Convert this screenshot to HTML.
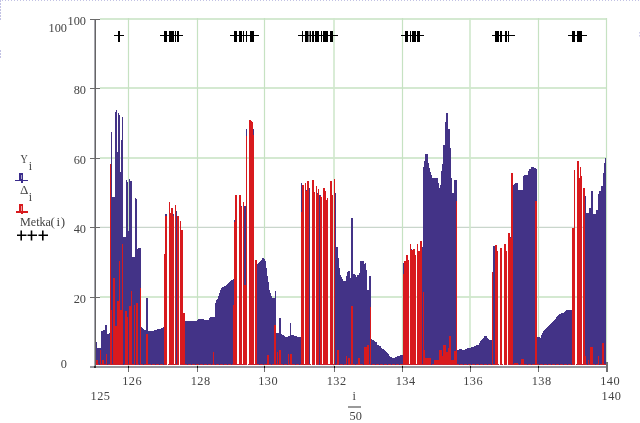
<!DOCTYPE html>
<html><head><meta charset="utf-8"><title>Mathcad plot</title>
<style>
html,body{margin:0;padding:0;background:#fff;}
body{width:640px;height:423px;overflow:hidden;position:relative;}
svg{position:absolute;left:0;top:0;display:block;}
text{font-family:"Liberation Serif","Times New Roman",serif;fill:#444;}
text{will-change:transform;}
</style></head><body>
<svg width="640" height="423" viewBox="0 0 640 423">
<!-- selection border -->
<line x1="0" y1="0.5" x2="640" y2="0.5" stroke="#c2c2e4" stroke-width="1" stroke-dasharray="1 2" transform="translate(2 0)"/>
<line x1="0.5" y1="0" x2="0.5" y2="21" stroke="#c2c2e4" stroke-width="1" stroke-dasharray="2 1"/>
<line x1="0.5" y1="50" x2="0.5" y2="59" stroke="#c2c2e4" stroke-width="1" stroke-dasharray="2 1"/>
<rect x="639" y="32" width="1" height="1.5" fill="#ccccea"/><rect x="639" y="35" width="1" height="1.5" fill="#ccccea"/>
<!-- grid -->
<g stroke="#c6e2c2" stroke-width="1.3" fill="none">
<path d="M100 19H607M100 88H607M100 158H607M100 297H607"/>
<path d="M100 227.4H607" stroke="#c9d6cc"/>
<path d="M128.5 18V366M197.5 18V366M264.5 18V366M402.5 18V366M538.5 18V366M606.5 18V362" stroke-width="1.2"/>
<path d="M334 18V366M470 18V366" stroke-width="1.6" stroke="#d0e8cc"/>
</g>
<!-- data -->
<g shape-rendering="crispEdges">
<path fill="#433387" d="M96 342h1v23h-1zM97 348h4v17h-4zM101 331h2v34h-2zM103 330h2v35h-2zM105 325h2v40h-2zM107 334h2v31h-2zM109 333h1v32h-1zM111 132h1v233h-1zM112 197h3v168h-3zM115 112h1v253h-1zM116 110h1v255h-1zM117 152h1v213h-1zM118 113h1v252h-1zM119 115h1v250h-1zM120 172h1v193h-1zM121 140h1v225h-1zM122 117h1v248h-1zM123 237h3v128h-3zM126 180h1v185h-1zM127 182h1v183h-1zM128 231h1v134h-1zM129 179h1v186h-1zM130 181h2v184h-2zM132 257h3v108h-3zM135 198h1v167h-1zM136 199h1v166h-1zM137 249h1v116h-1zM138 248h3v117h-3zM141 327.0h1v38.0h-1zM142 327.8h1v37.2h-1zM143 328.7h1v36.3h-1zM144 329.5h1v35.5h-1zM145 330.0h1v35.0h-1zM146 298h2v67h-2zM148 331.0h5v34.0h-5zM153 330.6h1v34.4h-1zM154 330.2h1v34.8h-1zM155 329.9h1v35.1h-1zM156 329.5h1v35.5h-1zM157 329.4h1v35.6h-1zM158 329.2h1v35.8h-1zM159 329.1h1v35.9h-1zM160 329.0h1v36.0h-1zM161 328.3h1v36.7h-1zM162 327.7h1v37.3h-1zM163 327.0h1v38.0h-1zM165 214h2v151h-2zM172 214h2v151h-2zM176 211h1v154h-1zM185 321.0h1v44.0h-1zM186 320.5h11v44.5h-11zM197 320.0h1v45.0h-1zM198 319.0h6v46.0h-6zM204 320.0h5v45.0h-5zM209 318.0h1v47.0h-1zM210 317.0h5v48.0h-5zM215 302.5h1v62.5h-1zM216 300.0h1v65.0h-1zM217 299.0h1v66.0h-1zM218 296.0h1v69.0h-1zM219 293.0h1v72.0h-1zM220 290.0h1v75.0h-1zM221 288.0h1v77.0h-1zM222 287.0h1v78.0h-1zM223 286.5h1v78.5h-1zM224 286.0h1v79.0h-1zM225 285.5h1v79.5h-1zM226 284.8h1v80.2h-1zM227 284.0h1v81.0h-1zM228 282.5h1v82.5h-1zM229 282.0h1v83.0h-1zM230 281.0h1v84.0h-1zM231 280.0h1v85.0h-1zM232 279.5h1v85.5h-1zM233 279.0h1v86.0h-1zM234 220h1v145h-1zM241 206h1v159h-1zM244 205.5h2v159.5h-2zM246 129h1v236h-1zM253 129h1v236h-1zM255 264h3v101h-3zM258 263.0h1v102.0h-1zM259 262.0h1v103.0h-1zM260 261.0h1v104.0h-1zM261 259.5h1v105.5h-1zM262 258.0h2v107.0h-2zM264 259.0h1v106.0h-1zM265 261.0h1v104.0h-1zM266 268.0h1v97.0h-1zM267 276.0h1v89.0h-1zM268 282.0h1v83.0h-1zM269 290.0h1v75.0h-1zM270 293.0h1v72.0h-1zM271 296.0h1v69.0h-1zM272 298.0h3v67.0h-3zM275 291h1v74h-1zM276 333.0h3v32.0h-3zM279 317.5h2v47.5h-2zM281 333.5h1v31.5h-1zM282 334.5h1v30.5h-1zM283 335.0h1v30.0h-1zM284 335.5h1v29.5h-1zM285 336.5h3v28.5h-3zM288 336.2h1v28.8h-1zM289 336.0h1v29.0h-1zM290 322.6h1v42.4h-1zM291 335.0h3v30.0h-3zM294 335.5h3v29.5h-3zM297 336.5h3v28.5h-3zM300 337.0h1v28.0h-1zM301 183h1v182h-1zM306 190h1v175h-1zM309 188h1v177h-1zM317 193h1v172h-1zM319 195h2v170h-2zM335 193h1v172h-1zM336 247h2v118h-2zM338 258.0h1v107.0h-1zM339 268.0h1v97.0h-1zM340 275.0h1v90.0h-1zM341 277.0h1v88.0h-1zM342 279.0h1v86.0h-1zM343 281.0h3v84.0h-3zM346 276.0h1v89.0h-1zM347 272.0h1v93.0h-1zM348 271.3h1v93.7h-1zM349 270.6h1v94.4h-1zM350 277.5h1v87.5h-1zM351 217.6h2v147.4h-2zM353 274h2v91h-2zM355 275.0h1v90.0h-1zM356 277.0h1v88.0h-1zM357 275.0h2v90.0h-2zM359 272.5h1v92.5h-1zM360 261h4v104h-4zM364 264.0h1v101.0h-1zM365 263.0h1v102.0h-1zM366 270.0h1v95.0h-1zM367 290h2v75h-2zM369 275.7h2v89.3h-2zM371 339.0h1v26.0h-1zM372 339.7h1v25.3h-1zM373 340.3h1v24.7h-1zM374 341.0h1v24.0h-1zM375 341.5h1v23.5h-1zM376 342.0h1v23.0h-1zM377 344.8h1v20.2h-1zM378 345.2h1v19.8h-1zM379 345.6h1v19.4h-1zM380 346.0h1v19.0h-1zM381 348.0h1v17.0h-1zM382 348.6h1v16.4h-1zM383 349.1h1v15.9h-1zM384 349.7h1v15.3h-1zM385 350.7h1v14.3h-1zM386 351.7h1v13.3h-1zM387 352.7h1v12.3h-1zM388 354.2h1v10.8h-1zM389 355.8h1v9.2h-1zM390 357.3h1v7.7h-1zM391 357.4h1v7.6h-1zM392 357.5h1v7.5h-1zM393 357.6h1v7.4h-1zM394 357.7h1v7.3h-1zM395 357.1h1v7.9h-1zM396 356.5h1v8.5h-1zM397 356.3h1v8.7h-1zM398 356.0h1v9.0h-1zM399 355.8h1v9.2h-1zM400 355.4h1v9.6h-1zM401 355.0h2v10.0h-2zM403 263h1v102h-1zM411 249h1v116h-1zM422 247h1v118h-1zM423 167.0h1v198.0h-1zM424 161.0h1v204.0h-1zM425 154.0h3v211.0h-3zM428 162.6h1v202.4h-1zM429 167.6h1v197.4h-1zM430 172.0h1v193.0h-1zM431 175.0h1v190.0h-1zM432 178.0h6v187.0h-6zM438 182.6h1v182.4h-1zM439 187.6h1v177.4h-1zM440 185.0h1v180.0h-1zM441 171.0h1v194.0h-1zM442 164.0h1v201.0h-1zM443 145.0h2v220.0h-2zM445 122.0h1v243.0h-1zM446 113.0h2v252.0h-2zM448 128.6h2v236.4h-2zM450 147.6h1v217.4h-1zM451 178h1v187h-1zM452 192.6h2v172.4h-2zM454 180h3v185h-3zM457 350.0h1v15.0h-1zM458 349.7h1v15.3h-1zM459 349.3h1v15.7h-1zM460 349.0h1v16.0h-1zM461 349.3h1v15.7h-1zM462 349.7h1v15.3h-1zM463 350.0h1v15.0h-1zM464 349.5h1v15.5h-1zM465 349.0h1v16.0h-1zM466 348.6h1v16.4h-1zM467 348.3h1v16.7h-1zM468 348.0h1v17.0h-1zM469 347.6h1v17.4h-1zM470 347.5h1v17.5h-1zM471 347.3h1v17.7h-1zM472 347.1h1v17.9h-1zM473 347.0h1v18.0h-1zM474 346.4h1v18.6h-1zM475 345.7h1v19.3h-1zM476 345.3h1v19.7h-1zM477 344.9h1v20.1h-1zM478 344.5h1v20.5h-1zM479 342.9h1v22.1h-1zM480 341.3h1v23.7h-1zM481 340.1h1v24.9h-1zM482 338.8h1v26.2h-1zM483 337.6h1v27.4h-1zM484 336.3h3v28.7h-3zM487 337.9h1v27.1h-1zM488 339.4h1v25.6h-1zM489 339.7h1v25.3h-1zM490 340.0h3v25.0h-3zM493 245.6h2v119.4h-2zM500 249h2v116h-2zM510 237h1v128h-1zM512 177.0h1v188.0h-1zM513 184.5h1v180.5h-1zM514 184.0h1v181.0h-1zM515 183.0h3v182.0h-3zM518 190.0h5v175.0h-5zM523 176.3h1v188.7h-1zM524 175.0h4v190.0h-4zM528 170.7h1v194.3h-1zM529 169.0h2v196.0h-2zM531 167.0h3v198.0h-3zM534 168.0h2v197.0h-2zM536 169.4h1v195.6h-1zM537 337.0h1v28.0h-1zM538 337.2h1v27.8h-1zM539 337.4h1v27.6h-1zM540 337.6h1v27.4h-1zM541 335.1h1v29.9h-1zM542 332.6h1v32.4h-1zM543 331.4h1v33.6h-1zM544 330.1h1v34.9h-1zM545 328.9h1v36.1h-1zM546 327.6h1v37.4h-1zM547 326.7h1v38.3h-1zM548 325.8h1v39.2h-1zM549 324.9h1v40.1h-1zM550 324.0h1v41.0h-1zM551 323.0h1v42.0h-1zM552 322.0h1v43.0h-1zM553 321.0h1v44.0h-1zM554 320.0h1v45.0h-1zM555 318.6h1v46.4h-1zM556 317.1h1v47.9h-1zM557 315.7h1v49.3h-1zM558 314.8h1v50.2h-1zM559 313.8h1v51.2h-1zM560 313.5h1v51.5h-1zM561 313.2h1v51.8h-1zM562 312.9h1v52.1h-1zM563 312.6h1v52.4h-1zM564 311.7h1v53.3h-1zM565 310.9h1v54.1h-1zM566 310.0h1v55.0h-1zM567 309.9h1v55.1h-1zM568 309.8h1v55.2h-1zM569 309.7h1v55.3h-1zM570 309.6h1v55.4h-1zM571 309.5h1v55.5h-1zM572 309.4h1v55.6h-1zM585 196h1v169h-1zM586 213h3v152h-3zM589 207.5h2v157.5h-2zM591 190.8h2v174.2h-2zM593 214.4h3v150.6h-3zM596 210h2v155h-2zM598 194h1v171h-1zM599 190.8h2v174.2h-2zM601 185.7h2v179.3h-2zM603 172.6h1v192.4h-1zM604 163h1v202h-1zM605 158h1v207h-1z"/>
<path fill="#d81a1e" d="M96 360h2v5h-2zM100 350h1v15h-1zM102 360h2v5h-2zM106 354h1v11h-1zM110 164h1v201h-1zM111 309.5h1v55.5h-1zM113 278h2v87h-2zM115 326h2v39h-2zM117 301h2v64h-2zM119 261h1v104h-1zM120 309.5h2v55.5h-2zM122 244h1v121h-1zM125 310.6h2v54.4h-2zM127 317h1v48h-1zM129 305.5h2v59.5h-2zM131 291h1v74h-1zM134 305h1v60h-1zM136 303h2v62h-2zM140 287.5h1v77.5h-1zM146 334h2v31h-2zM164 254h1v111h-1zM165 216h2v149h-2zM169 202h1v163h-1zM170 212.8h1v152.2h-1zM171 207.8h2v157.2h-2zM173 215.6h1v149.4h-1zM175 205.2h1v159.8h-1zM177 216h2v149h-2zM180 221h1v144h-1zM181 230h2v135h-2zM183 313h2v52h-2zM213 352h1v13h-1zM233 305h1v60h-1zM234 222h1v143h-1zM235 195h2v170h-2zM239 195h2v170h-2zM241 207h1v158h-1zM243 202h1v163h-1zM244 285h2v80h-2zM246 136h1v229h-1zM249 120h2v245h-2zM251 121h1v244h-1zM252 122h1v243h-1zM253 135h1v230h-1zM255 260h2v105h-2zM267 355h2v10h-2zM274 325h2v40h-2zM277 352h1v13h-1zM279 350h2v15h-2zM288 354h1v11h-1zM290 354h2v11h-2zM301 212h1v153h-1zM302 184.5h2v180.5h-2zM305 182.5h1v182.5h-1zM306 191h1v174h-1zM307 181.3h2v183.7h-2zM312 180h2v185h-2zM314 192h1v173h-1zM316 186h1v179h-1zM317 194h1v171h-1zM318 188.6h1v176.4h-1zM320 196h1v169h-1zM321 197h1v168h-1zM323 188h2v177h-2zM325 191h1v174h-1zM326 200h1v165h-1zM327 198h1v167h-1zM330 181h2v184h-2zM332 195h1v170h-1zM334 179h1v186h-1zM337 350h2v15h-2zM346 356h1v9h-1zM348 357.6h2v7.4h-2zM351 306.4h2v58.6h-2zM358 357.6h2v7.4h-2zM364 347h3v18h-3zM367 344.5h2v20.5h-2zM370 307h1v58h-1zM403 274h1v91h-1zM404 261h2v104h-2zM406 255h2v110h-2zM408 260h1v105h-1zM410 244.4h1v120.6h-1zM411 250h2v115h-2zM413 249.4h2v115.6h-2zM415 255h1v110h-1zM417 244.4h1v120.6h-1zM418 251.3h2v113.7h-2zM420 241.3h2v123.7h-2zM423 292h1v73h-1zM424 350h1v15h-1zM425 358h6v7h-6zM434 360h5v5h-5zM439 350h3v15h-3zM442 356h1v9h-1zM443 344.5h3v20.5h-3zM446 352h2v13h-2zM448 348h1v17h-1zM449 336h2v29h-2zM451 360h3v5h-3zM454 351.3h2v13.7h-2zM456 200.7h1v164.3h-1zM492 272h1v93h-1zM495 245h2v120h-2zM497 250.7h1v114.3h-1zM500 247.5h2v117.5h-2zM504 243.8h2v121.2h-2zM506 251h1v114h-1zM508 233h2v132h-2zM510 238h1v127h-1zM511 172.6h2v192.4h-2zM514 362.5h4v2.5h-4zM521 359h3v6h-3zM535 201h2v164h-2zM572 228h2v137h-2zM574 170h1v195h-1zM577 160.5h2v204.5h-2zM579 177.6h1v187.4h-1zM580 167h1v198h-1zM581 176.3h1v188.7h-1zM583 188.2h2v176.8h-2zM585 356h1v9h-1zM588 360h1v5h-1zM590 347h3v18h-3zM598 356h1v9h-1zM602 343.2h2v21.8h-2z"/>
<path d="M96 364.5H606" stroke="#c42232" stroke-width="1" stroke-dasharray="3 1"/>
</g>
<!-- markers -->
<g stroke="#000" shape-rendering="crispEdges">
<rect x="118" y="31" width="2" height="10.5" fill="#000" stroke="none"/>
<rect x="164" y="31" width="2.9000000000000057" height="10.5" fill="#000" stroke="none"/>
<rect x="169.3" y="31" width="4.399999999999977" height="10.5" fill="#000" stroke="none"/>
<rect x="174.8" y="31" width="1.0" height="10.5" fill="#000" stroke="none"/>
<rect x="177.4" y="31" width="1.5" height="10.5" fill="#000" stroke="none"/>
<rect x="233.9" y="31" width="3.0999999999999943" height="10.5" fill="#000" stroke="none"/>
<rect x="239.2" y="31" width="2.6000000000000227" height="10.5" fill="#000" stroke="none"/>
<rect x="242.9" y="31" width="1.0999999999999943" height="10.5" fill="#000" stroke="none"/>
<rect x="245.7" y="31" width="1.4000000000000057" height="10.5" fill="#000" stroke="none"/>
<rect x="249.7" y="31" width="4.600000000000023" height="10.5" fill="#000" stroke="none"/>
<rect x="301.5" y="31" width="1.6999999999999886" height="10.5" fill="#000" stroke="none"/>
<rect x="304.9" y="31" width="2.900000000000034" height="10.5" fill="#000" stroke="none"/>
<rect x="309.7" y="31" width="1.0" height="10.5" fill="#000" stroke="none"/>
<rect x="312.1" y="31" width="1.8999999999999773" height="10.5" fill="#000" stroke="none"/>
<rect x="314.5" y="31" width="1.3999999999999773" height="10.5" fill="#000" stroke="none"/>
<rect x="316.3" y="31" width="2.3999999999999773" height="10.5" fill="#000" stroke="none"/>
<rect x="321" y="31" width="0.8000000000000114" height="10.5" fill="#000" stroke="none"/>
<rect x="323.2" y="31" width="4.5" height="10.5" fill="#000" stroke="none"/>
<rect x="330.3" y="31" width="2.6999999999999886" height="10.5" fill="#000" stroke="none"/>
<rect x="405.1" y="31" width="2.7999999999999545" height="10.5" fill="#000" stroke="none"/>
<rect x="409.9" y="31" width="1.0" height="10.5" fill="#000" stroke="none"/>
<rect x="412.2" y="31" width="3.5500000000000114" height="10.5" fill="#000" stroke="none"/>
<rect x="417.1" y="31" width="2.7999999999999545" height="10.5" fill="#000" stroke="none"/>
<rect x="495.25" y="31" width="3.5500000000000114" height="10.5" fill="#000" stroke="none"/>
<rect x="500.1" y="31" width="1.8999999999999773" height="10.5" fill="#000" stroke="none"/>
<rect x="504.6" y="31" width="2.099999999999966" height="10.5" fill="#000" stroke="none"/>
<rect x="507.8" y="31" width="1.3000000000000114" height="10.5" fill="#000" stroke="none"/>
<rect x="572.2" y="31" width="2.7999999999999545" height="10.5" fill="#000" stroke="none"/>
<rect x="577.25" y="31" width="4.5" height="10.5" fill="#000" stroke="none"/>
<rect x="307.8" y="31" width="1.9" height="10.5" fill="#888" stroke="none"/>
<rect x="114" y="35" width="10" height="1.2" fill="#000" stroke="none"/>
<rect x="160.3" y="35" width="22.899999999999977" height="1.2" fill="#000" stroke="none"/>
<rect x="229.5" y="35" width="29.899999999999977" height="1.2" fill="#000" stroke="none"/>
<rect x="297.8" y="35" width="40.19999999999999" height="1.2" fill="#000" stroke="none"/>
<rect x="401.1" y="35" width="22.899999999999977" height="1.2" fill="#000" stroke="none"/>
<rect x="491.9" y="35" width="22.899999999999977" height="1.2" fill="#000" stroke="none"/>
<rect x="568.4" y="35" width="18.800000000000068" height="1.2" fill="#000" stroke="none"/>
</g>
<!-- axes -->
<g shape-rendering="crispEdges">
<rect x="94" y="19" width="1" height="348" fill="#a6a6ae"/>
<rect x="95" y="19" width="1" height="348" fill="#666"/>
<rect x="90" y="366" width="516" height="2" fill="#96989e"/>
<path d="M90 19.5H100M90 88.5H100M90 158.5H100M90 227.5H100M90 297.5H100" stroke="#6a6a6a"/>
<rect x="94" y="366" width="2" height="2" fill="#333"/>
<path d="M128.5 366V368M197.5 366V368M264.5 366V368M334 366V368M402.5 366V368M470 366V368M538.5 366V368" stroke="#111"/>
<path d="M128.5 368V372M197.5 368V372M264.5 368V372M334 368V372M402.5 368V372M470 368V372M538.5 368V372" stroke="#6e6e6e"/>
<rect x="606" y="362" width="1.6" height="10" fill="#707070"/>
</g>
<!-- y labels -->
<g class="tx" font-size="12.3" text-anchor="end">
<text x="86" y="25">100</text>
<text x="86" y="94">80</text>
<text x="86" y="164">60</text>
<text x="86" y="233">40</text>
<text x="86" y="303">20</text>
<text x="67" y="32">100</text>
<text x="67" y="368">0</text>
</g>
<!-- x labels -->
<g class="tx" font-size="12.3" letter-spacing="0.4">
<text x="122.3" y="385">126</text>
<text x="190.8" y="385">128</text>
<text x="258.3" y="385">130</text>
<text x="326.8" y="385">132</text>
<text x="395.8" y="385">134</text>
<text x="463.3" y="385">136</text>
<text x="531.8" y="385">138</text>
<text x="600.3" y="385">140</text>
<text x="90.6" y="399.8">125</text>
<text x="601.6" y="399.6">140</text>
</g>
<!-- axis title i/50 -->
<g class="tx" font-size="12.3">
<text x="352.5" y="400.3">i</text>
<path d="M348 407H361" stroke="#808080" stroke-width="1.6"/>
<text x="349.5" y="420">50</text>
</g>
<!-- legend -->
<g class="tx" font-size="13">
<text x="20.5" y="162.7" textLength="7.3" lengthAdjust="spacingAndGlyphs">Y</text>
<text x="28.8" y="169.7" font-size="12">i</text>
<text x="20" y="193.5">Δ</text>
<text x="28.8" y="201" font-size="12">i</text>
<text x="20" y="225.5" textLength="31" lengthAdjust="spacingAndGlyphs">Metka</text><text x="50.4" y="225.5">(</text><text x="56.6" y="225.5">i</text><text x="60.8" y="225.5">)</text>
</g>
<g shape-rendering="crispEdges">
<rect x="19" y="173" width="4" height="7" fill="#3a2c8c"/>
<rect x="20.5" y="175" width="1" height="4" fill="#a8a4c8"/>
<path d="M15 180.5H28" stroke="#3a2c8c" stroke-width="1.4"/>
<rect x="19" y="204" width="4" height="8" fill="#d81a1e"/>
<rect x="21" y="212" width="1.6" height="1.6" fill="#d81a1e"/>
<rect x="21" y="181" width="1.6" height="1.6" fill="#3a2c8c"/>
<rect x="20.5" y="206" width="1" height="5" fill="#eaa0a0"/>
<path d="M15.5 212H28" stroke="#d81a1e" stroke-width="1.4"/>
<path d="M17 235.3H26.5M27.5 235.3H37M38.5 235.3H48M21.2 230.4V240.4M31.5 230.4V240.4M42.8 230.4V240.4" stroke="#000" stroke-width="1.6" shape-rendering="auto"/>
</g>
</svg>
</body></html>
